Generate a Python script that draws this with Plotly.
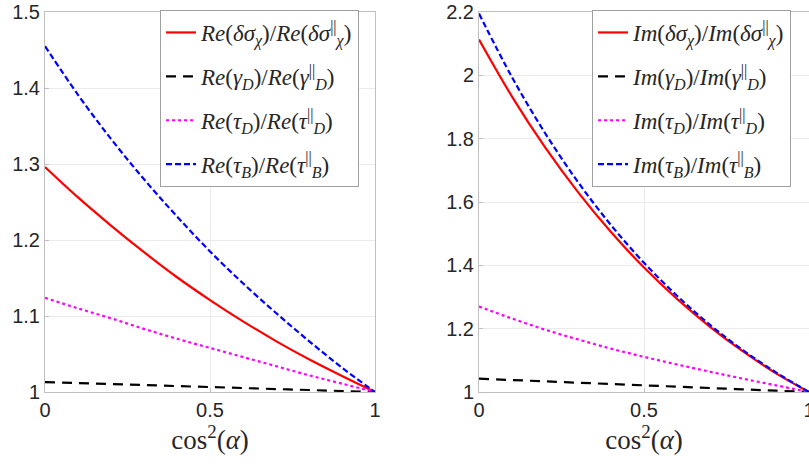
import plotly.graph_objects as go

x = [0.0, 0.1, 0.2, 0.3, 0.4, 0.5, 0.6, 0.7, 0.8, 0.9, 1.0]

re_sigma = [1.296, 1.256, 1.219, 1.184, 1.151, 1.121, 1.093, 1.067, 1.043, 1.021, 1.0]
re_gammaD = [1.013, 1.0117, 1.0104, 1.0091, 1.0078, 1.0065, 1.0052, 1.0039, 1.0026, 1.0013, 1.0]
re_tauD = [1.124, 1.110, 1.097, 1.083, 1.070, 1.058, 1.046, 1.034, 1.022, 1.011, 1.0]
re_tauB = [1.455, 1.391, 1.333, 1.280, 1.231, 1.185, 1.143, 1.104, 1.067, 1.032, 1.0]

im_sigma = [2.113, 1.933, 1.773, 1.631, 1.505, 1.393, 1.294, 1.206, 1.128, 1.059, 1.0]
im_gammaD = [1.042, 1.0378, 1.0336, 1.0294, 1.0252, 1.021, 1.0168, 1.0126, 1.0084, 1.0042, 1.0]
im_tauD = [1.270, 1.232, 1.197, 1.166, 1.137, 1.111, 1.087, 1.064, 1.042, 1.021, 1.0]
im_tauB = [2.195, 1.994, 1.818, 1.663, 1.527, 1.408, 1.304, 1.212, 1.132, 1.062, 1.0]

left_ticks = [1.0, 1.1, 1.2, 1.3, 1.4, 1.5]
left_ticklabels = ["1", "1.1", "1.2", "1.3", "1.4", "1.5"]
right_ticks = [1.0, 1.2, 1.4, 1.6, 1.8, 2.0, 2.2]
right_ticklabels = ["1", "1.2", "1.4", "1.6", "1.8", "2", "2.2"]
x_ticks = [0, 0.5, 1]
x_ticklabels = ["0", "0.5", "1"]

styles = [
    dict(color="#ff0000", width=2.2, dash="solid"),
    dict(color="#000000", width=2.2, dash="10px,7px"),
    dict(color="#ff00ff", width=2.2, dash="dot"),
    dict(color="#0000ff", width=2.2, dash="6px,3px"),
]

def name(pre, a, b, sub):
    return (f"<i>{pre}</i>(<i>{a}</i><sub><i>{sub}</i></sub>)/"
            f"<i>{pre}</i>(<i>{b}</i><sup>||</sup><sub><i>{sub}</i></sub>)")

left_names = [name("Re", "δσ", "δσ", "χ"), name("Re", "γ", "γ", "D"),
              name("Re", "τ", "τ", "D"), name("Re", "τ", "τ", "B")]
right_names = [name("Im", "δσ", "δσ", "χ"), name("Im", "γ", "γ", "D"),
               name("Im", "τ", "τ", "D"), name("Im", "τ", "τ", "B")]

fig = go.Figure()
for i, (ys, nm, st) in enumerate(zip([re_sigma, re_gammaD, re_tauD, re_tauB], left_names, styles)):
    fig.add_trace(go.Scatter(x=x, y=ys, name=nm, mode="lines", line=dict(shape="spline", **st),
                             xaxis="x", yaxis="y", legend="legend", legendgroup=f"L{i}"))
for i, (ys, nm, st) in enumerate(zip([im_sigma, im_gammaD, im_tauD, im_tauB], right_names, styles)):
    fig.add_trace(go.Scatter(x=x, y=ys, name=nm, mode="lines", line=dict(shape="spline", **st),
                             xaxis="x2", yaxis="y2", legend="legend2", legendgroup=f"R{i}"))

W, H = 809, 464
ydom = [1 - 392 / H, 1 - 12 / H]
axis_common = dict(showline=True, mirror=True, linecolor="#c0c0c0", linewidth=1,
                   showgrid=True, gridcolor="#ebebeb", gridwidth=1,
                   ticks="inside", ticklen=4, tickcolor="#c0c0c0",
                   tickfont=dict(family="Liberation Sans, Arial", size=20, color="#262626"),
                   zeroline=False, automargin=False, ticklabeloverflow="allow")

title_font = dict(family="Liberation Serif, Times New Roman", size=27, color="#262626")
legend_font = dict(family="Liberation Serif, Times New Roman", size=23, color="#262626")

fig.update_layout(
    width=W, height=H,
    margin=dict(l=0, r=0, t=0, b=0),
    paper_bgcolor="white", plot_bgcolor="white",
    showlegend=True,
    xaxis=dict(domain=[45 / W, 375 / W], range=[0, 1], tickvals=x_ticks, ticktext=x_ticklabels,
               anchor="y", title=dict(text="cos<sup>2</sup>(<i>α</i>)", font=title_font, standoff=4),
               **axis_common),
    yaxis=dict(domain=ydom, range=[1, 1.5], tickvals=left_ticks, ticktext=left_ticklabels,
               anchor="x", **axis_common),
    xaxis2=dict(domain=[479 / W, 1.0], range=[0, 1], tickvals=x_ticks, ticktext=x_ticklabels,
                anchor="y2", title=dict(text="cos<sup>2</sup>(<i>α</i>)", font=title_font, standoff=4),
                **axis_common),
    yaxis2=dict(domain=ydom, range=[1, 2.2], tickvals=right_ticks, ticktext=right_ticklabels,
                anchor="x2", **axis_common),
    legend=dict(x=160 / W, y=1 - 10 / H, xanchor="left", yanchor="top",
                bgcolor="white", bordercolor="#a0a0a0", borderwidth=1,
                font=legend_font, itemwidth=30, tracegroupgap=11, traceorder="grouped"),
    legend2=dict(x=592 / W, y=1 - 10 / H, xanchor="left", yanchor="top",
                 bgcolor="white", bordercolor="#a0a0a0", borderwidth=1,
                 font=legend_font, itemwidth=30, tracegroupgap=11, traceorder="grouped"),
)

fig.write_html("out.html", config={"displayModeBar": False},
               post_script="document.body.style.margin='0';document.body.style.overflow='hidden';")
